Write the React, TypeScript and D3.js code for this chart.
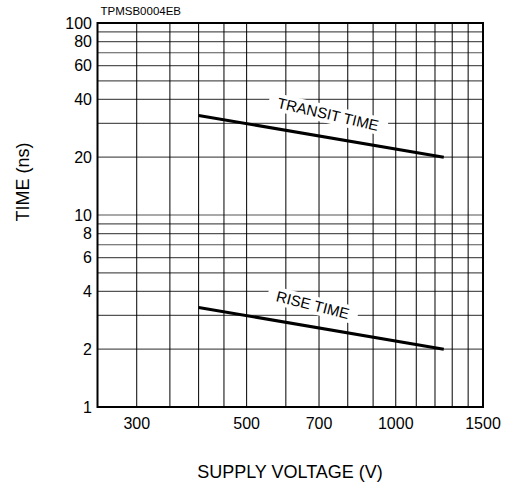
import React from 'react';
import * as d3 from 'd3';

// supply voltage (V) at the ends of each curve
const voltage = [400, 1250];
const transitTime = [33, 20];
const riseTime = [3.3, 2];

const xGrid = [300, 350, 400, 450, 500, 600, 700, 800, 900, 1000, 1100, 1200, 1300, 1400];
const xTickLabels = [300, 500, 700, 1000, 1500];
const yGrid = [2, 3, 4, 5, 6, 7, 8, 9, 10, 20, 30, 40, 50, 60, 70, 80, 90];
const yTickLabels = [1, 2, 4, 6, 8, 10, 20, 40, 60, 80, 100];

const curveLabels = [
  { text: 'TRANSIT TIME', v: 730, t: 33.5, angle: 13 },
  { text: 'RISE TIME', v: 680, t: 3.4, angle: 14 },
];

const W = 513;
const H = 486;
const margin = { top: 23, right: 30, bottom: 79, left: 97.5 };
const font = 'Arial, "Liberation Sans", Helvetica, sans-serif';

const App: React.FC = () => {
  const x = d3.scaleLog().domain([250, 1500]).range([margin.left, W - margin.right]);
  const y = d3.scaleLog().domain([1, 100]).range([H - margin.bottom, margin.top]);

  const line = d3
    .line<number>()
    .x((_d, i) => x(voltage[i]))
    .y(d => y(d));

  const [x0, x1] = x.range();
  const [y0, y1] = y.range();

  return (
    <svg
      width={W}
      height={H}
      style={{ position: 'absolute', left: 0, top: 0, background: '#fff' }}
      fontFamily={font}
    >
      <text x={100.5} y={15} fontSize={11.5} fill="#000">TPMSB0004EB</text>

      {/* grid */}
      {yGrid.map(v => (
        <line key={'h' + v} x1={x0} x2={x1} y1={y(v)} y2={y(v)} stroke="#555" strokeWidth={1.2} />
      ))}
      {xGrid.map(v => (
        <line key={'v' + v} x1={x(v)} x2={x(v)} y1={y1} y2={y0} stroke="#000" strokeWidth={1} />
      ))}

      {/* curves */}
      <path d={line(transitTime) || ''} fill="none" stroke="#000" strokeWidth={3} />
      <path d={line(riseTime) || ''} fill="none" stroke="#000" strokeWidth={3} />

      {curveLabels.map(l => {
        const w = l.text.length * 9.6;
        return (
          <g key={l.text} transform={`translate(${x(l.v)},${y(l.t)}) rotate(${l.angle})`}>
            <rect x={-w / 2 - 3} y={-9} width={w + 6} height={18} fill="#fff" />
            <text textAnchor="middle" dy="0.35em" fontSize={15} fill="#000">{l.text}</text>
          </g>
        );
      })}

      {/* frame */}
      <rect x={x0} y={y1} width={x1 - x0} height={y0 - y1} fill="none" stroke="#000" strokeWidth={2} />

      {/* tick labels */}
      {yTickLabels.map(v => (
        <text key={'yl' + v} x={92} y={y(v)} dy="0.36em" textAnchor="end" fontSize={16}>{v}</text>
      ))}
      {xTickLabels.map(v => (
        <text key={'xl' + v} x={x(v)} y={429} textAnchor="middle" fontSize={16}>{v}</text>
      ))}

      {/* axis titles */}
      <text x={290} y={478} textAnchor="middle" fontSize={18}>SUPPLY VOLTAGE (V)</text>
      <text transform={`translate(29,182) rotate(-90)`} textAnchor="middle" fontSize={18}>TIME (ns)</text>
    </svg>
  );
};

export default App;
